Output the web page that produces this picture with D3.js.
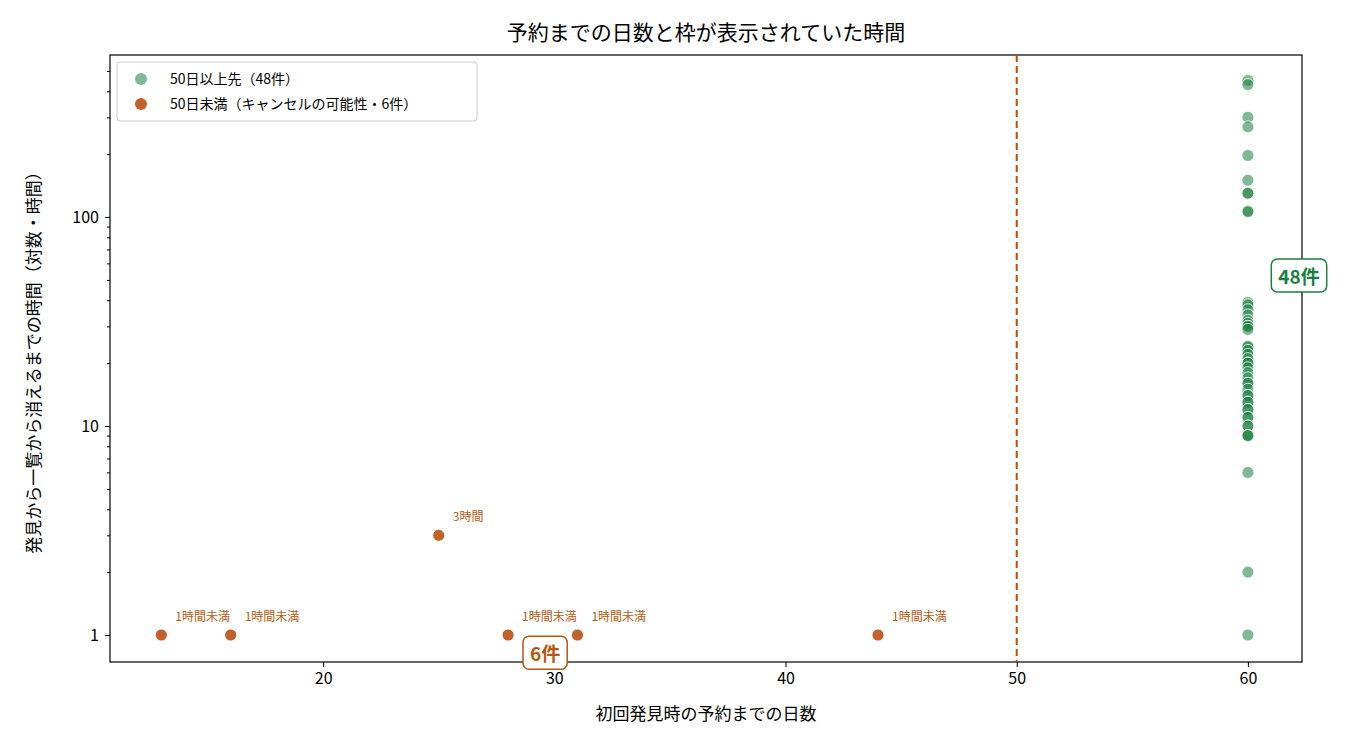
<!doctype html>
<html lang="ja">
<head>
<meta charset="utf-8">
<title>予約までの日数と枠が表示されていた時間</title>
<style>
  body { margin: 0; background: #fff; }
  text { font-family: "Noto Sans CJK JP", "Noto Sans", sans-serif; }
</style>
</head>
<body>
<svg id="chart" width="1350" height="750"></svg>
<script src="https://d3js.org/d3.v7.min.js"></script>
<script>
// far-out slots (all at 60 days, capped)
const farHours = [450, 430, 300, 270, 197, 150, 130, 130, 107, 106,
  39, 38, 36, 34, 32, 31, 30, 30, 29, 24, 24, 23, 22, 21, 20, 20, 19, 18, 17, 16, 16,
  15, 14, 14, 13, 13, 12, 12, 11, 11, 10, 10, 9, 9, 9, 6, 2, 1]
const farDays = farHours.map(() => 60)

// near slots (possible cancellations)
const nearDays = [13, 16, 25, 28, 31, 44]
const nearHours = [1, 1, 3, 1, 1, 1]
const nearLabels = ['1時間未満', '1時間未満', '3時間', '1時間未満', '1時間未満', '1時間未満']

const xTicks = [20, 30, 40, 50, 60]
const yTicks = [1, 10, 100]

const svg = d3.select('#chart')
const m = { l: 110, r: 1302, t: 55, b: 662 }

const x = d3.scaleLinear().domain([10.78, 62.34]).range([m.l, m.r])
const y = d3.scaleLog().domain([0.743, 596]).range([m.b, m.t])

const green = '#1a7f3f', orange = '#c0622a'

svg.append('text').attr('x', (m.l + m.r) / 2).attr('y', 40).attr('text-anchor', 'middle')
  .attr('font-size', 21).text('予約までの日数と枠が表示されていた時間')

// axes
svg.append('g').attr('transform', `translate(0,${m.b})`)
  .call(d3.axisBottom(x).tickValues(xTicks).tickSize(5).tickPadding(6))
  .call(g => g.selectAll('text').attr('font-size', 16).attr('fill', '#000'))
  .call(g => g.select('.domain').remove())
svg.append('g').attr('transform', `translate(${m.l},0)`)
  .call(d3.axisLeft(y).tickValues(yTicks).tickFormat(d3.format('d')).tickSize(5).tickPadding(6))
  .call(g => g.selectAll('text').attr('font-size', 16).attr('fill', '#000'))
  .call(g => g.select('.domain').remove())
const minor = []
for (let d = 1; d <= 100; d *= 10) for (let k = 2; k <= 9; k++) minor.push(d * k)
svg.append('g').attr('transform', `translate(${m.l},0)`)
  .call(d3.axisLeft(y).tickValues(minor.filter(v => v < 596)).tickFormat('').tickSize(3))
  .call(g => g.select('.domain').remove())

svg.append('rect').attr('x', m.l).attr('y', m.t).attr('width', m.r - m.l).attr('height', m.b - m.t)
  .attr('fill', 'none').attr('stroke', '#000').attr('stroke-width', 1.2)

svg.append('text').attr('x', (m.l + m.r) / 2).attr('y', 720).attr('text-anchor', 'middle')
  .attr('font-size', 17).text('初回発見時の予約までの日数')
svg.append('text').attr('transform', `translate(40,${(m.t + m.b) / 2}) rotate(-90)`)
  .attr('text-anchor', 'middle').attr('font-size', 17).text('発見から一覧から消えるまでの時間（対数・時間）')

// 50-day line
svg.append('line').attr('x1', x(50)).attr('x2', x(50)).attr('y1', m.t).attr('y2', m.b)
  .attr('stroke', '#c04d00').attr('stroke-width', 2).attr('stroke-dasharray', '7,4')

// points
svg.append('g').selectAll('circle').data(farHours).join('circle')
  .attr('cx', (d, i) => x(farDays[i])).attr('cy', d => y(d)).attr('r', 6)
  .attr('fill', green).attr('fill-opacity', 0.55).attr('stroke', '#fff').attr('stroke-width', 0.8)

svg.append('g').selectAll('circle').data(nearHours).join('circle')
  .attr('cx', (d, i) => x(nearDays[i])).attr('cy', d => y(d)).attr('r', 6)
  .attr('fill', orange).attr('stroke', '#fff').attr('stroke-width', 0.8)
svg.append('g').selectAll('text').data(nearHours).join('text')
  .attr('x', (d, i) => x(nearDays[i]) + 14).attr('y', d => y(d) - 14)
  .attr('font-size', 12).attr('fill', '#b85a10').text((d, i) => nearLabels[i])

// count badges
function badge(cx, cy, label, col) {
  const g = svg.append('g')
  const t = g.append('text').attr('x', cx).attr('y', cy + 7).attr('text-anchor', 'middle')
    .attr('font-size', 19).attr('font-weight', 'bold').attr('fill', col).text(label)
  const b = t.node().getBBox()
  g.insert('rect', 'text').attr('x', b.x - 7).attr('y', b.y - 3).attr('width', b.width + 14)
    .attr('height', b.height + 6).attr('rx', 6).attr('fill', '#fff').attr('stroke', col).attr('stroke-width', 1.5)
}
badge(x(29.6), y(0.81), '6件', '#b8560f')
badge(1299, 277, '48件', green)

// legend
const lg = svg.append('g')
lg.append('rect').attr('x', 117).attr('y', 62).attr('width', 360).attr('height', 59).attr('rx', 3)
  .attr('fill', '#fff').attr('stroke', '#ccc')
const leg = [['50日以上先（48件）', green, 0.55], ['50日未満（キャンセルの可能性・6件）', orange, 1]]
leg.forEach((d, i) => {
  lg.append('circle').attr('cx', 141).attr('cy', 79 + i * 25).attr('r', 6).attr('fill', d[1]).attr('fill-opacity', d[2])
  lg.append('text').attr('x', 170).attr('y', 84 + i * 25).attr('font-size', 14).text(d[0])
})
</script>
</body>
</html>
